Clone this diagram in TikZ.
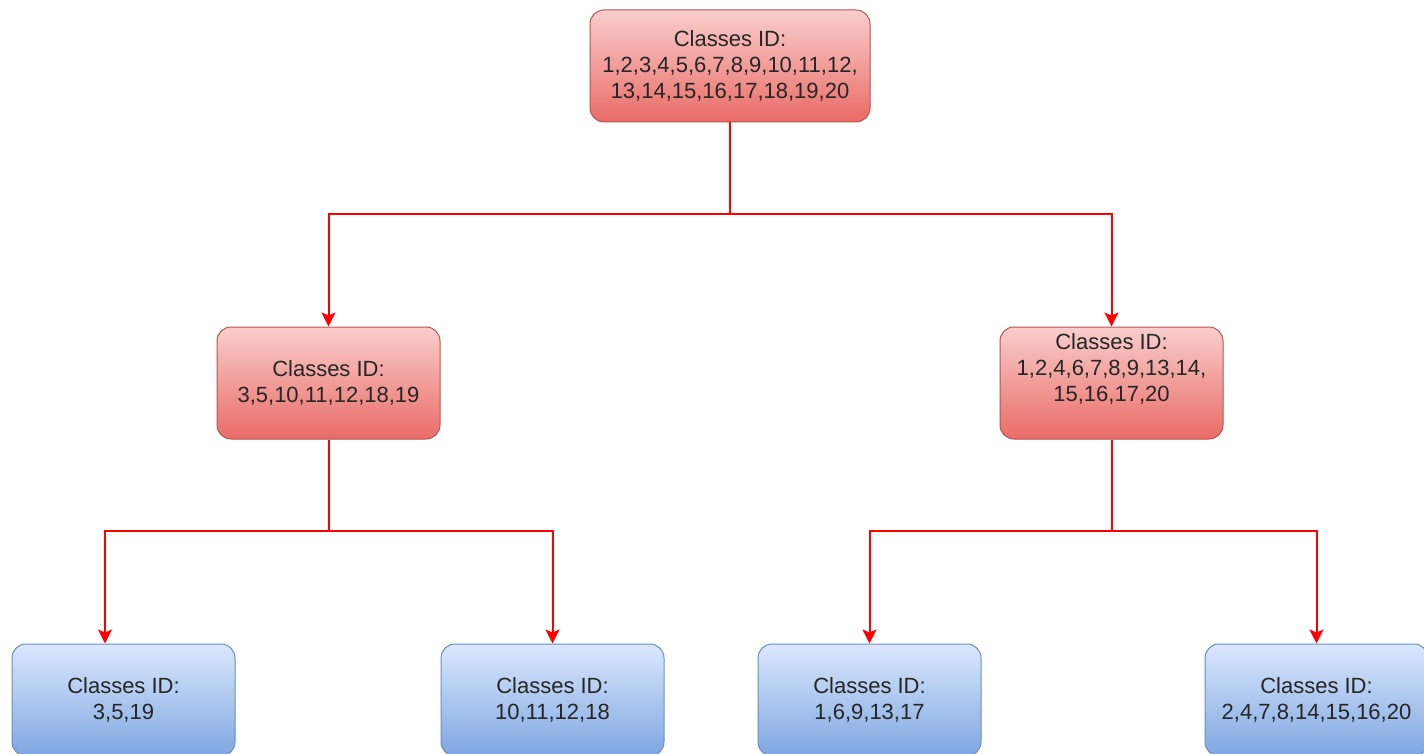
\documentclass[tikz,border=0pt]{standalone}
\usepackage{fontspec}
\setmainfont{Liberation Sans}
\usetikzlibrary{arrows.meta}
\usetikzlibrary{positioning}
\definecolor{redtop}{HTML}{F8CECC}
\definecolor{redbottom}{HTML}{EA6B66}
\definecolor{redline}{HTML}{B85450}
\definecolor{bluetop}{HTML}{DAE8FC}
\definecolor{bluebottom}{HTML}{7EA6E0}
\definecolor{blueline}{HTML}{6C8EBF}
\tikzset{
  classbox/.style={rounded corners=7pt, minimum width=111.5pt, minimum height=56pt,
    align=center, font=\fontsize{11}{13}\selectfont, text=black!85, line width=0.5pt},
  redbox/.style={classbox, draw=redline, top color=redtop, bottom color=redbottom},
  bluebox/.style={classbox, draw=blueline, top color=bluetop, bottom color=bluebottom},
  link/.style={draw=red, line width=1pt, -{Stealth[length=7pt,width=7pt,inset=1.5pt]}}
}

\begin{document}
\begin{tikzpicture}[x=0.5pt,y=-0.5pt]
        \useasboundingbox (0,0) rectangle (1424,754);
        \clip (0,0) rectangle (1424,754);
        \node[redbox, minimum width=140pt] (all) at (730,66)
            {Classes ID:\\1,2,3,4,5,6,7,8,9,10,11,12,\\13,14,15,16,17,18,19,20};
        \node[redbox] (left) at (328.5,383) {Classes ID:\\3,5,10,11,12,18,19};
        \node[redbox] (right) at (1111.5,383)
            {\raisebox{6.5pt}[\height][\depth]{\begin{tabular}{@{}c@{}}Classes ID:\\1,2,4,6,7,8,9,13,14,\\15,16,17,20\end{tabular}}};
        \node[bluebox] (leftA) at (123.5,700) {Classes ID:\\3,5,19};
        \node[bluebox] (leftB) at (552.5,700) {Classes ID:\\10,11,12,18};
        \node[bluebox] (rightA) at (869.5,700) {Classes ID:\\1,6,9,13,17};
        \node[bluebox] (rightB) at (1316.5,700) {Classes ID:\\2,4,7,8,14,15,16,20};
        \coordinate (splitTop) at (730,214);
        \coordinate (splitLeft) at (328.5,531);
        \coordinate (splitRight) at (1111.5,531);
        \draw[link] (all.south) -- (splitTop) -| (left.north);
        \draw[link] (splitTop) -| (right.north);
        \draw[link] (left.south) -- (splitLeft) -| ([xshift=-9.25pt]leftA.north);
        \draw[link] (splitLeft) -| (leftB.north);
        \draw[link] (right.south) -- (splitRight) -| (rightA.north);
        \draw[link] (splitRight) -| (rightB.north);
    \end{tikzpicture}
\end{document}
